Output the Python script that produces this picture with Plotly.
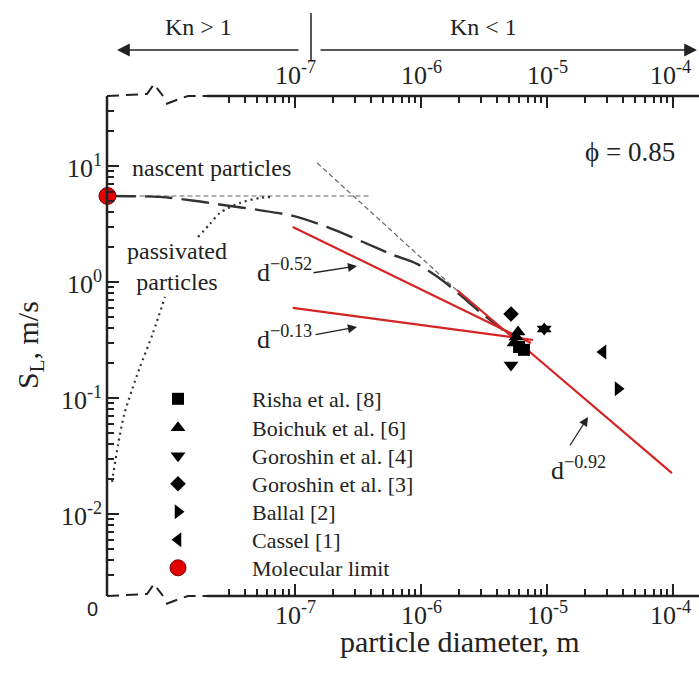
import math
import plotly.graph_objects as go

# ---------------- data ----------------
# molecular limit (d -> 0, drawn at the left edge of the broken axis)
mol_d = [3.25e-9]
mol_S = [5.51]

risha_d = [6.0e-6, 6.56e-6]
risha_S = [0.275, 0.26]
boichuk_d = [5.47e-6, 5.68e-6, 5.89e-6, 9.5e-6]
boichuk_S = [0.298, 0.336, 0.371, 0.394]
gor4_d = [5.18e-6, 9.5e-6]
gor4_S = [0.192, 0.394]
gor3_d = [5.18e-6]
gor3_S = [0.53]
ballal_d = [3.66e-5]
ballal_S = [0.120]
cassel_d = [2.78e-5]
cassel_S = [0.249]

# power-law fits
fit052_d = [9.6e-8, 7.46e-6]
fit052_S = [2.98, 0.298]
fit013_d = [9.6e-8, 7.74e-6]
fit013_S = [0.597, 0.316]
fit092_d = [1.93e-6, 9.8e-5]
fit092_S = [0.853, 0.0225]

# thin guide lines
molguide_d = [3.25e-9, 3.87e-7]
molguide_S = [5.51, 5.51]
contguide_d = [1.50e-7, 2.04e-6]
contguide_S = [10.6, 0.80]

# nascent particles (long dashed)
nasc_d = [3.25e-9, 8.49e-9, 1.64e-8, 2.69e-8, 5.08e-8, 9.64e-8, 1.79e-7, 3.47e-7,
          6.00e-7, 9.29e-7, 1.50e-6, 2.04e-6, 2.94e-6, 4.48e-6]
nasc_S = [5.51, 5.41, 4.99, 4.61, 4.18, 3.71, 2.98, 2.21, 1.71, 1.43, 1.02, 0.773,
          0.551, 0.385]

# passivated particles (dotted, two pieces around the label)
pass1_d = [3.53e-9, 3.94e-9, 4.40e-9, 5.08e-9, 5.89e-9, 7.46e-9, 9.29e-9]
pass1_S = [0.0189, 0.0394, 0.0713, 0.117, 0.185, 0.363, 0.743]
pass2_d = [1.70e-8, 2.11e-8, 2.54e-8, 3.66e-8, 5.27e-8, 6.68e-8]
pass2_S = [2.44, 3.16, 3.94, 4.80, 5.30, 5.41]

x_major = [1e-7, 1e-6, 1e-5, 1e-4]
x_major_text = ["10<sup>-7</sup>", "10<sup>-6</sup>", "10<sup>-5</sup>", "10<sup>-4</sup>"]
y_major = [1e-2, 1e-1, 1, 10]
y_major_text = ["10<sup>-2</sup>", "10<sup>-1</sup>", "10<sup>0</sup>", "10<sup>1</sup>"]

# ---------------- layout geometry ----------------
W, H = 699, 673
L, R, T, B = 107, 699, 96, 596
XR = [-8.492, -3.794]
YR = [-2.707, 1.603]

def px(x):
    return (x - L) / (R - L)

def py(y):
    return (B - y) / (B - T)

SERIF = "Liberation Serif"
INK = "#222222"
RED = "#d42424"

x_minor = [m * 10 ** e for e in range(-8, -3) for m in range(2, 10)]
x_minor = [v for v in x_minor if 2.5e-8 < v < 1.5e-4 and v not in x_major]
y_minor = [m * 10 ** e for e in range(-3, 2) for m in range(2, 10)]
y_minor = [v for v in y_minor if 2.5e-3 < v < 35]

fig = go.Figure()

def line(xs, ys, color, width, dash, shape="linear"):
    fig.add_trace(go.Scatter(x=xs, y=ys, mode="lines", showlegend=False,
                             line=dict(color=color, width=width, dash=dash,
                                       shape=shape, smoothing=0.8),
                             hoverinfo="skip"))

line(molguide_d, molguide_S, "#666666", 1.2, "5px,3px")
line(contguide_d, contguide_S, "#666666", 1.2, "5px,3px")
line(pass1_d, pass1_S, "#333333", 2.2, "2px,4px", "spline")
line(pass2_d, pass2_S, "#333333", 2.2, "2px,4px", "spline")
line(nasc_d, nasc_S, "#333333", 2.4, "28px,9px", "spline")
line(fit052_d, fit052_S, RED, 2.2, "solid")
line(fit013_d, fit013_S, RED, 2.2, "solid")
line(fit092_d, fit092_S, RED, 2.2, "solid")

pts = [
    ("Risha et al. [8]", risha_d, risha_S, "square", 12, "legend"),
    ("Boichuk et al. [6]", boichuk_d, boichuk_S, "triangle-up", 13, "legend2"),
    ("Goroshin et al. [4]", gor4_d, gor4_S, "triangle-down", 13, "legend3"),
    ("Goroshin et al. [3]", gor3_d, gor3_S, "diamond", 12, "legend4"),
    ("Ballal [2]", ballal_d, ballal_S, "triangle-right", 13, "legend5"),
    ("Cassel [1]", cassel_d, cassel_S, "triangle-left", 13, "legend6"),
]
for name, xs, ys, sym, sz, lg in pts:
    fig.add_trace(go.Scatter(x=xs, y=ys, mode="markers", name=name, legend=lg,
                             marker=dict(symbol=sym, size=sz, color="black",
                                         line=dict(width=0)),
                             cliponaxis=False))
fig.add_trace(go.Scatter(x=mol_d, y=mol_S, mode="markers", name="Molecular limit",
                         legend="legend7", cliponaxis=False,
                         marker=dict(symbol="circle", size=17, color="#e00000",
                                     line=dict(color="#7a0000", width=1))))
# empty trace to carry the top axis
fig.add_trace(go.Scatter(x=[], y=[], xaxis="x2", showlegend=False))

def xaxis_cfg(side):
    return dict(type="log", range=XR, showgrid=False, zeroline=False, showline=False,
                tickmode="array", tickvals=x_major, showticklabels=False,
                ticks="inside", ticklen=12, tickwidth=2, tickcolor=INK, side=side,
                minor=dict(tickmode="array", tickvals=x_minor, ticks="inside",
                           ticklen=7, tickwidth=1.5, tickcolor=INK, showgrid=False))

legend_rows = [399, 428, 456, 484, 512, 540, 568]
layout_legends = {}
for i, yy in enumerate(legend_rows):
    key = "legend" if i == 0 else f"legend{i+1}"
    layout_legends[key] = dict(x=px(104), xanchor="left", y=py(yy), yanchor="middle",
                               itemwidth=138, bgcolor="rgba(0,0,0,0)",
                               font=dict(family=SERIF, size=22, color=INK),
                               tracegroupgap=0)

x2 = xaxis_cfg("top")
x2.update(overlaying="x", anchor="y")

fig.update_layout(
    width=W, height=H,
    margin=dict(l=L, r=W - R, t=T, b=H - B, pad=0),
    paper_bgcolor="white", plot_bgcolor="white",
    xaxis=xaxis_cfg("bottom"),
    xaxis2=x2,
    yaxis=dict(type="log", range=YR, showgrid=False, zeroline=False, showline=False,
               tickmode="array", tickvals=y_major, showticklabels=False,
               ticks="inside", ticklen=12, tickwidth=2, tickcolor=INK,
               minor=dict(tickmode="array", tickvals=y_minor, ticks="inside",
                          ticklen=7, tickwidth=1.5, tickcolor=INK, showgrid=False)),
    **layout_legends,
)

# ---------------- axis lines with breaks ----------------
shapes = []
def seg(x0, y0, x1, y1, width=2.5, dash="solid", color=INK):
    shapes.append(dict(type="line", xref="paper", yref="paper",
                       x0=px(x0), y0=py(y0), x1=px(x1), y1=py(y1),
                       line=dict(color=color, width=width, dash=dash)))

seg(L, T, L, B)                 # left axis
seg(207, T, R, T)               # top axis (solid part)
seg(207, B, R, B)               # bottom axis (solid part)

def brk(yb):
    pts_ = [(107, yb), (147, yb - 2), (154, yb - 12), (163, yb)]
    pts2 = [(166, yb + 8), (182, yb + 2), (188, yb), (207, yb)]
    path = "M" + " L".join(f"{px(a):.5f},{py(b):.5f}" for a, b in pts_)
    path += " M" + " L".join(f"{px(a):.5f},{py(b):.5f}" for a, b in pts2)
    shapes.append(dict(type="path", xref="paper", yref="paper", path=path,
                       line=dict(color=INK, width=2, dash="12px,7px")))
brk(T)
brk(B)

# Kn divider bar
seg(311, 13, 311, 60, width=1.5)
fig.update_layout(shapes=shapes)

# ---------------- annotations ----------------
ann = []
def text(x, y, s, size=24, family=SERIF, angle=0, xanchor="center"):
    ann.append(dict(xref="paper", yref="paper", x=px(x), y=py(y), text=s,
                    showarrow=False, font=dict(family=family, size=size, color=INK),
                    textangle=angle, xanchor=xanchor, yanchor="middle"))

# tick labels (placed through the axes' own scales)
TICKFONT = dict(family=SERIF, size=26, color=INK)
for v, t in zip(x_major, x_major_text):
    shift = -3 if v == x_major[-1] else 0
    ann.append(dict(xref="x", yref="paper", x=math.log10(v), y=py(613), text=t,
                    showarrow=False, font=TICKFONT, xanchor="center", yanchor="middle",
                    xshift=shift))
    ann.append(dict(xref="x", yref="paper", x=math.log10(v), y=py(74), text=t,
                    showarrow=False, font=TICKFONT, xanchor="center", yanchor="middle",
                    xshift=shift))
for v, t in zip(y_major, y_major_text):
    ann.append(dict(xref="paper", yref="y", x=px(104), y=math.log10(v), text=t,
                    showarrow=False, font=TICKFONT, xanchor="right", yanchor="middle",
                    yshift=-1))

text(198, 27, "Kn &gt; 1", 24)
text(483, 27, "Kn &lt; 1", 24)
text(460, 641, "particle diameter, m", 30)
text(30, 345, "S<sub>L</sub>, m/s", 30, angle=-90)
text(92, 609, "0", 20, family="Liberation Sans")
text(211, 168, "nascent particles", 24)
text(177, 266, "passivated<br>particles", 24)
text(630, 152, "ϕ = 0.85", 27)
text(284, 270, "d<sup>−0.52</sup>", 26)
text(284, 337, "d<sup>−0.13</sup>", 26)
text(578, 468, "d<sup>−0.92</sup>", 26)

def arrow_paper(hx, hy, tx, ty, w=1.6, size=1.3):
    ann.append(dict(xref="paper", yref="paper", x=px(hx), y=py(hy),
                    axref="pixel", ayref="pixel", ax=tx - hx, ay=ty - hy,
                    text="", showarrow=True, arrowhead=2, arrowsize=size,
                    arrowwidth=w, arrowcolor=INK, standoff=0))

arrow_paper(117, 50, 300, 50, 1.6, 1.6)
arrow_paper(697, 50, 319, 50, 1.6, 1.6)
arrow_paper(357, 266, 312, 273, 1.3, 1.4)
arrow_paper(357, 327, 314, 335, 1.3, 1.4)
arrow_paper(588, 417, 569, 447, 1.3, 1.4)

fig.update_layout(annotations=ann)
fig.write_html("out.html",
               config={"displayModeBar": False},
               post_script="document.body.style.margin='0px';"
                           "document.body.style.padding='0px';")
